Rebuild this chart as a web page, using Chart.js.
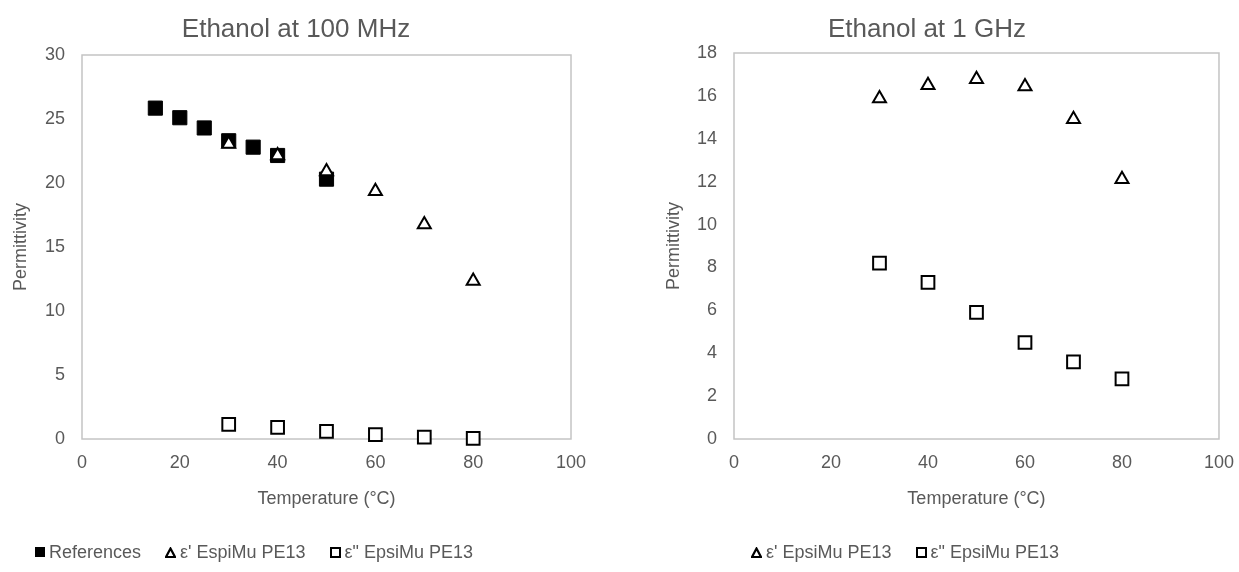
<!DOCTYPE html>
<html><head><meta charset="utf-8">
<script src="https://cdn.jsdelivr.net/npm/chart.js@4.4.1/dist/chart.umd.min.js"></script>
<style>
html,body{margin:0;padding:0;background:#fff;width:1239px;height:572px;overflow:hidden;font-family:"Liberation Sans",Arial,sans-serif;}
#w1{position:absolute;left:0;top:0;width:600px;height:572px;}
#w2{position:absolute;left:620px;top:0;width:627px;height:572px;}
.legend{position:absolute;top:542px;height:20px;display:flex;align-items:center;font-size:18px;line-height:20px;color:#595959;white-space:nowrap;}
.item{display:flex;align-items:center;}
.item svg{display:block;margin-right:4px;}
</style></head>
<body>
<div id="w1"><canvas id="c1" width="600" height="572"></canvas></div>
<div id="w2"><canvas id="c2" width="627" height="572"></canvas></div>
<div class="legend" id="l1" style="left:35px"></div>
<div class="legend" id="l2" style="left:751px"></div>
<script>
// ---- data ----
const titles = ['Ethanol at 100 MHz', 'Ethanol at 1 GHz'];
const xTitle = 'Temperature (°C)';
const yTitle = 'Permittivity';
const namesLeft = ['References', "ε' EspiMu PE13", 'ε" EpsiMu PE13'];
const namesRight = ["ε' EpsiMu PE13", 'ε" EpsiMu PE13'];

const tempRef = [15, 20, 25, 30, 35, 40, 50];
const permRef = [25.85, 25.1, 24.3, 23.3, 22.8, 22.15, 20.3];
const temp = [30, 40, 50, 60, 70, 80];
const epsReal100M = [23.05, 22.15, 20.9, 19.35, 16.75, 12.35];
const epsImag100M = [1.15, 0.9, 0.6, 0.35, 0.15, 0.05];
const epsReal1G = [15.88, 16.5, 16.78, 16.44, 14.91, 12.11];
const epsImag1G = [8.2, 7.3, 5.9, 4.5, 3.6, 2.8];

const xTicks = {min: 0, max: 100, step: 20};
const yTicksLeft = {min: 0, max: 30, step: 5};
const yTicksRight = {min: 0, max: 18, step: 2};

// ---- helpers ----
const pts = (xs, ys) => xs.map((x, i) => ({x, y: ys[i]}));
const TXT = '#595959';
Chart.defaults.font.family = "'Liberation Sans', Arial, sans-serif";
Chart.defaults.color = TXT;

const frame = {
  id: 'frame',
  beforeDatasetsDraw(chart) {
    const {ctx, chartArea: a} = chart;
    ctx.save();
    ctx.strokeStyle = '#c4c4c4';
    ctx.lineWidth = 1.5;
    ctx.strokeRect(a.left, a.top, a.right - a.left, a.bottom - a.top);
    ctx.restore();
  }
};

const styles = {
  ref: {pointStyle: 'rect', pointRadius: 10, borderWidth: 1, backgroundColor: '#000', borderColor: '#000'},
  tri: {pointStyle: 'triangle', pointRadius: 7.5, borderWidth: 2, backgroundColor: '#fff', borderColor: '#000'},
  sq:  {pointStyle: 'rect', pointRadius: 9, borderWidth: 2, backgroundColor: '#fff', borderColor: '#000'}
};

function makeChart(id, title, datasets, yT, pad, yWidth, yTitlePad, titleBottom) {
  return new Chart(document.getElementById(id), {
    type: 'scatter',
    data: {datasets},
    plugins: [frame],
    options: {
      responsive: false, animation: false, devicePixelRatio: 1,
      layout: {padding: pad},
      plugins: {
        legend: {display: false}, tooltip: {enabled: false},
        title: {display: true, text: title, color: TXT, font: {size: 26, weight: 'normal', lineHeight: 1.2}, padding: {top: 14, bottom: titleBottom}}
      },
      scales: {
        x: {
          type: 'linear', min: xTicks.min, max: xTicks.max,
          grid: {display: false, drawTicks: false}, border: {display: false},
          ticks: {stepSize: xTicks.step, font: {size: 18}, color: TXT, padding: 13},
          title: {display: true, text: xTitle, color: TXT, font: {size: 18}, padding: {top: 0, bottom: 2}},
          afterFit(s) { s.height = 73; }
        },
        y: {
          type: 'linear', min: yT.min, max: yT.max,
          grid: {display: false, drawTicks: false}, border: {display: false},
          ticks: {stepSize: yT.step, font: {size: 18}, color: TXT, padding: 17},
          title: {display: true, text: yTitle, color: TXT, font: {size: 18}, padding: {top: yTitlePad, bottom: 0}},
          afterFit(s) { s.width = yWidth; }
        }
      }
    }
  });
}

makeChart('c1', titles[0], [
  Object.assign({label: namesLeft[0], data: pts(tempRef, permRef), order: 3, clip: false}, styles.ref),
  Object.assign({label: namesLeft[1], data: pts(temp, epsReal100M), order: 1, clip: false}, styles.tri),
  Object.assign({label: namesLeft[2], data: pts(temp, epsImag100M), order: 2, clip: false}, styles.sq)
], yTicksLeft, {left: 21, right: 29, top: 0, bottom: 60}, 61, -11, 9.8);

makeChart('c2', titles[1], [
  Object.assign({label: namesRight[0], data: pts(temp, epsReal1G), order: 1, clip: false}, styles.tri),
  Object.assign({label: namesRight[1], data: pts(temp, epsImag1G), order: 2, clip: false}, styles.sq)
], yTicksRight, {left: 15, right: 28, top: 0, bottom: 60}, 99, 28, 7.8);

// ---- HTML legends ----
const markers = {
  ref: '<svg width="10" height="10"><rect x="0" y="0" width="10" height="10" fill="#000"/></svg>',
  tri: '<svg width="11" height="11"><polygon points="5.5,1.5 10,10 1,10" fill="#fff" stroke="#000" stroke-width="2.2"/></svg>',
  sq:  '<svg width="11" height="11"><rect x="1" y="1" width="9" height="9" fill="#fff" stroke="#000" stroke-width="2"/></svg>'
};
function legend(id, names, kinds, gap) {
  const el = document.getElementById(id);
  el.style.gap = gap + 'px';
  el.innerHTML = names.map((n, i) => '<span class="item">' + markers[kinds[i]] + '<span>' + n + '</span></span>').join('');
}
legend('l1', namesLeft, ['ref', 'tri', 'sq'], 24);
legend('l2', namesRight, ['tri', 'sq'], 24);
</script>
</body></html>
